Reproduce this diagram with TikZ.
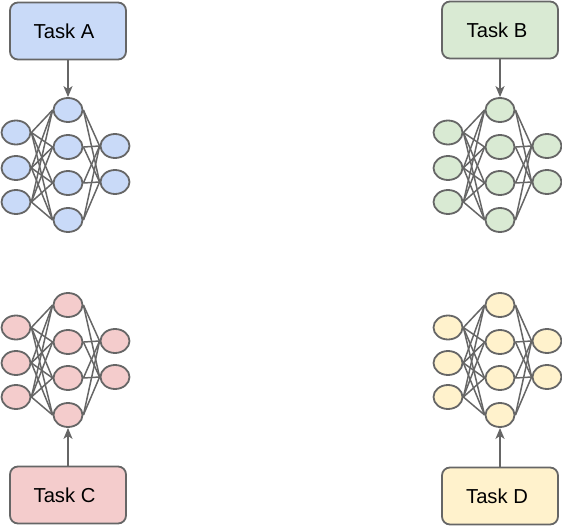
\documentclass[tikz,border=0pt]{standalone}
\usepackage{fontspec}
\setmainfont{Liberation Sans}
\usetikzlibrary{shapes.geometric,arrows.meta}
\definecolor{edgegray}{HTML}{666666}
\definecolor{bluefill}{HTML}{C9DAF8}
\definecolor{greenfill}{HTML}{D9EAD3}
\definecolor{redfill}{HTML}{F4CCCC}
\definecolor{yellowfill}{HTML}{FFF2CC}
\tikzset{
  neuron/.style={ellipse, draw=edgegray, line width=1.8pt,
    minimum width=29pt, minimum height=24pt, inner sep=0pt},
  taskbox/.style={rectangle, rounded corners=8pt, draw=edgegray, line width=1.8pt,
    minimum width=116pt, minimum height=57pt, inner sep=0pt,
    font=\fontsize{20.2}{24}\selectfont},
  link/.style={draw=edgegray, line width=1.5pt},
  feed/.style={draw=edgegray, line width=1.8pt, -{Stealth[length=11pt,width=9pt,inset=3pt]}}
}
% a small fully connected network: 3 inputs, 4 hidden, 2 outputs
\newcommand\neuralnet[4]{%
  \begin{scope}[shift={(#2,#3)}]
    \foreach \k/\yy in {1/132.5,2/168,3/202}
      \node[neuron,fill=#4] (#1i\k) at (16,\yy) {};
    \foreach \k/\yy in {1/110,2/147,3/183,4/220}
      \node[neuron,fill=#4] (#1h\k) at (68,\yy) {};
    \foreach \k/\yy in {1/146,2/182}
      \node[neuron,fill=#4] (#1o\k) at (115,\yy) {};
    \foreach \a in {1,2,3}
      \foreach \b in {1,...,4}
        \draw[link] (#1i\a.east) -- (#1h\b.west);
    \foreach \a in {1,...,4}
      \foreach \b in {1,2}
        \draw[link] (#1h\a.east) -- (#1o\b.west);
  \end{scope}}
\begin{document}
\begin{tikzpicture}[x=1pt,y=-1pt]
  \useasboundingbox (0,0) rectangle (562,525);

  \neuralnet{A}{0}{0}{bluefill}
  \neuralnet{B}{432}{0}{greenfill}
  \neuralnet{C}{0}{195}{redfill}
  \neuralnet{D}{432}{195}{yellowfill}

  \node[taskbox,fill=bluefill]   (taskA) at (68,31)   {Task A\kern8pt};
  \node[taskbox,fill=greenfill]  (taskB) at (500,30)  {Task B\kern6pt};
  \node[taskbox,fill=redfill]    (taskC) at (68,495)  {Task C\kern7pt};
  \node[taskbox,fill=yellowfill] (taskD) at (500,496) {Task D\kern6pt};

  \draw[feed] (taskA.south) -- (Ah1.north);
  \draw[feed] (taskB.south) -- (Bh1.north);
  \draw[feed] (taskC.north) -- (Ch4.south);
  \draw[feed] (taskD.north) -- (Dh4.south);
\end{tikzpicture}
\end{document}
